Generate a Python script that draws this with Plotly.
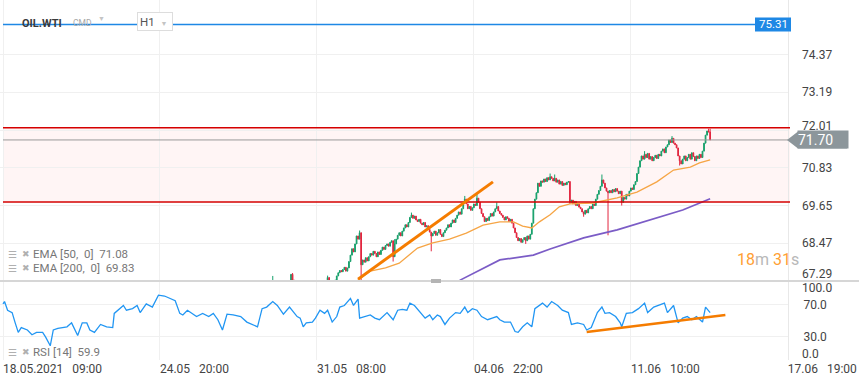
import plotly.graph_objects as go

W, H = 859, 385

# ---------------- data ----------------
first_bar = 171          # bar index of the first candle (bar 0 = 18.05 09:00, H1 bars)
first_open = 67.00
closes = [
    67.05, 67.10, 67.02, 67.12, 67.20, 67.15,
    67.30,
    67.22, 67.18, 67.10, 67.05, 67.12, 67.00, 66.95, 67.05, 67.15, 67.10, 67.20, 67.50,
    67.32, 67.28,
    67.20, 67.15, 67.05, 67.00, 66.95, 67.02, 67.10, 67.05, 66.98, 67.05, 67.15, 67.10, 67.00, 67.08, 67.15, 67.20, 67.12, 67.18, 67.25, 67.20, 67.30,
    67.40, 67.30,
    67.25, 67.20, 67.28, 67.32,
    67.45, 67.55, 67.62, 67.58,
    67.65, 67.72, 67.60, 67.70, 67.90,
    68.10, 68.30, 68.20, 68.45,
    68.70, 68.60, 68.80,
    67.80,
    67.95, 67.88, 68.02, 67.92, 68.05,
    68.15, 68.10, 68.22,
    68.15, 68.05, 68.20, 68.12,
    68.25, 68.35, 68.28, 68.40,
    68.45, 68.38, 68.50,
    68.55, 68.05, 68.45,
    68.60, 68.72,
    68.80, 68.70, 68.85,
    68.95, 69.05, 68.98, 69.12,
    69.28, 69.35, 69.25, 69.32,
    69.20, 69.15, 69.22, 69.10,
    69.05, 69.12, 68.98, 69.02,
    68.90, 68.82, 68.70,
    68.78, 68.85, 68.72, 68.80, 68.90, 68.75, 68.68, 68.80, 68.88, 68.95,
    69.05, 68.98, 69.10, 69.20, 69.12, 69.25,
    69.35, 69.45, 69.38, 69.55,
    69.75, 69.85, 69.70,
    69.55, 69.62, 69.50, 69.58,
    69.70, 69.65, 69.88, 69.75,
    69.55, 69.40, 69.30, 69.15, 69.25, 69.18,
    69.30, 69.40, 69.32, 69.45, 69.55, 69.62, 69.48, 69.40,
    69.35, 69.28, 69.20, 69.30, 69.25, 69.15, 69.22, 69.10, 68.95,
    68.80, 68.65, 68.55, 68.62, 68.50, 68.58,
    68.65, 68.55, 68.70, 68.60, 68.75,
    69.10, 69.55, 69.85, 70.05,
    70.35, 70.25, 70.42, 70.38,
    70.48, 70.40, 70.52, 70.45, 70.55, 70.50,
    70.42, 70.50, 70.38, 70.45, 70.32, 70.40, 70.28, 70.35, 70.30,
    70.38, 70.40,
    69.75,
    69.82, 69.70, 69.78, 69.65, 69.72, 69.60, 69.55,
    69.45, 69.38, 69.50, 69.42, 69.55,
    69.62, 69.55, 69.70, 69.65,
    69.85, 70.00, 70.12, 70.25,
    70.45, 70.35,
    70.20, 70.10, 70.05,
    70.12, 70.05, 70.15, 70.08, 70.18, 70.10, 70.02, 70.10,
    69.75,
    69.90, 69.85, 70.00, 69.95,
    70.10, 70.20, 70.15, 70.30, 70.40,
    70.65, 70.85,
    71.05, 71.20, 71.10, 71.25, 71.15, 71.28,
    71.10, 71.18, 71.05, 71.15, 71.22,
    71.12, 71.25, 71.20,
    71.35, 71.42, 71.30, 71.48, 71.55,
    71.70, 71.62, 71.75, 71.60,
    71.55, 71.45,
    71.20, 71.05, 70.95, 71.10,
    71.20, 71.05, 71.15, 71.25, 71.10, 71.30, 71.18, 71.05, 71.20,
    71.12, 71.25, 71.15, 71.35,
    71.60, 71.85,
    71.98, 71.95,
    71.70,
]
wick_high = {177: 67.45, 190: 67.54, 213: 67.46, 234: 68.87, 257: 68.60, 268: 69.43,
             303: 69.95, 311: 70.02, 324: 69.75, 359: 70.65, 362: 70.62, 393: 70.62,
             421: 71.35, 439: 71.82, 463: 72.05, 464: 72.05}
wick_low = {235: 67.30, 256: 67.90, 281: 68.22, 343: 68.45, 372: 69.70, 381: 69.30,
            397: 68.72, 406: 69.65, 444: 70.90}

ema50_idx = [228, 233, 241, 251, 260, 272, 282, 293, 304, 315, 326, 335, 341, 347, 352,
             359, 365, 372, 387, 403, 416, 429, 440, 451, 457, 464]
ema50_val = [67.17, 67.32, 67.60, 67.70, 67.85, 68.32, 68.48, 68.60, 68.79, 69.04, 69.14,
             69.14, 69.01, 68.95, 69.14, 69.36, 69.61, 69.70, 69.73, 69.89, 70.07, 70.39,
             70.76, 70.85, 70.98, 71.08]
ema200_idx = [293, 300, 326, 348, 359, 381, 403, 425, 446, 464]
ema200_val = [67.02, 67.32, 67.95, 68.10, 68.29, 68.64, 68.89, 69.20, 69.51, 69.86]

rsi_idx = [0, 1, 3, 6, 8, 10, 12, 16, 19, 22, 26, 28, 31, 33, 36, 42, 45, 49, 52, 55, 57, 60,
           64, 68, 72, 73, 79, 81, 85, 88, 90, 94, 98, 102, 106, 110, 113, 116, 118, 121, 124,
           127, 131, 135, 138, 141, 144, 147, 151, 156, 160, 163, 167, 170, 173, 177, 180, 184,
           188, 193, 195,
           197, 199, 203, 205, 208, 211, 213, 216, 219, 221, 224, 228, 230, 233, 234, 238, 241,
           244, 247, 252, 254, 256, 259, 262, 265, 267, 270, 274, 277, 280, 282, 285, 287, 290,
           293, 297, 300, 303, 305, 308, 311, 314, 318, 321, 324, 326, 329, 333, 336, 338, 341,
           344, 347, 349, 354, 357, 360, 364, 365,
           367, 371, 373, 377, 381, 383, 386, 390, 393, 395, 398, 402, 405, 406, 409, 413, 417,
           421, 423, 427, 430, 434, 436, 440, 443, 446, 449, 452, 455, 459, 461, 463, 464]
rsi_val = [71, 74, 63, 60, 47, 35, 41, 38, 32, 35, 35, 29, 18, 38, 40, 42, 47, 31, 47, 47, 38, 35,
           45, 42, 41, 59, 69, 63, 65, 69, 60, 71, 67, 82, 81, 78, 75, 59, 57, 63, 59,
           55, 59, 55, 59, 51, 38, 58, 57, 55, 48, 45, 42, 65, 67, 74, 69, 58,
           67, 55, 53,
           42, 47, 48, 53, 63, 59, 63, 48, 55, 67, 69, 78, 69, 77, 53, 55, 57,
           53, 51, 60, 55, 51, 63, 64, 63, 72, 69, 59, 53, 57, 51, 57, 55, 45,
           53, 60, 59, 67, 60, 65, 63, 55, 51, 53, 55, 51, 48, 48, 36, 35, 42,
           47, 42, 65, 72, 67, 74, 69, 67,
           63, 60, 45, 47, 45, 38, 41, 60, 67, 59, 60, 55, 47, 42, 59, 60, 65,
           72, 60, 67, 69, 72, 60, 69, 47, 53, 55, 51, 55, 48, 67, 63, 60]

x_tick_idx = [0, 103, 206, 309, 412, 515]
x_tick_text = ["18.05.2021  09:00", "24.05  20:00", "31.05  08:00",
               "04.06  22:00", "11.06  10:00", "17.06  19:00"]
price_ticks = [74.37, 73.19, 72.01, 70.83, 69.65, 68.47, 67.29]
rsi_ticks = [100.0, 70.0, 30.0, 0.0]

last_price = 71.70
ask_level = 75.31
resistance = 72.08
support = 69.76
ema50_last, ema200_last, rsi_last = 71.08, 69.83, 59.9
trend_price_x, trend_price_y = [233, 321.5], [67.35, 70.39]
trend_rsi_x, trend_rsi_y = [383, 474], [35.4, 57.0]
countdown = ("18", "31")

# ---------------- build ----------------
bars = list(range(first_bar, first_bar + len(closes)))
opens = [first_open] + closes[:-1]
highs = [wick_high.get(b, max(o, c)) for b, o, c in zip(bars, opens, closes)]
lows = [wick_low.get(b, min(o, c)) for b, o, c in zip(bars, opens, closes)]

def px(x):
    return x / W

def py(y):
    return 1 - y / H

FONT = "Roboto"
GRID = "#f0f0f0"
XR = [-1.97, 515.1]
XDOM = [0, 788 / W]
TICKFONT = dict(family=FONT, size=12, color="#444")

fig = go.Figure()
fig.add_trace(go.Candlestick(
    x=bars, open=opens, high=highs, low=lows, close=closes,
    increasing=dict(line=dict(color="#17a06b", width=1), fillcolor="#17a06b"),
    decreasing=dict(line=dict(color="#e2263f", width=1), fillcolor="#e2263f"),
    whiskerwidth=0, xaxis="x", yaxis="y", hoverinfo="skip"))
fig.add_trace(go.Scatter(x=ema50_idx, y=ema50_val, mode="lines",
                         line=dict(color="#f6a545", width=1.3), xaxis="x", yaxis="y"))
fig.add_trace(go.Scatter(x=ema200_idx, y=ema200_val, mode="lines",
                         line=dict(color="#7b5cc6", width=1.7), xaxis="x", yaxis="y"))
fig.add_trace(go.Scatter(x=rsi_idx, y=rsi_val, mode="lines",
                         line=dict(color="#2196f3", width=1.3), xaxis="x2", yaxis="y2"))

shapes = [
    dict(type="rect", xref="paper", yref="y", x0=px(3), x1=px(790), y0=support, y1=resistance,
         fillcolor="#fff5f5", line=dict(width=0), layer="below"),
    dict(type="line", xref="paper", yref="y", x0=px(3), x1=px(788), y0=last_price, y1=last_price,
         line=dict(color="#9a9a9a", width=1)),
    dict(type="line", xref="paper", yref="y", x0=px(3), x1=px(790), y0=resistance, y1=resistance,
         line=dict(color="#d50000", width=1.5)),
    dict(type="line", xref="paper", yref="y", x0=px(3), x1=px(790), y0=support, y1=support,
         line=dict(color="#d50000", width=1.5)),
    dict(type="line", xref="paper", yref="y", x0=px(3), x1=px(755), y0=ask_level, y1=ask_level,
         line=dict(color="#1e88e5", width=1.5)),
    dict(type="rect", xref="paper", yref="y", x0=px(755), x1=px(791), ysizemode="pixel",
         yanchor=ask_level, y0=-7, y1=7, fillcolor="#1e88e5", line=dict(width=0)),
    dict(type="path", xref="paper", yref="y", xsizemode="pixel", xanchor=px(787),
         ysizemode="pixel", yanchor=last_price,
         path="M0,0 L11,8.5 L60,8.5 L60,-8.5 L11,-8.5 Z", fillcolor="#8c969b", line=dict(width=0)),
    dict(type="line", xref="x", yref="y", x0=trend_price_x[0], x1=trend_price_x[1],
         y0=trend_price_y[0], y1=trend_price_y[1], line=dict(color="#f57c00", width=3)),
    dict(type="line", xref="x2", yref="y2", x0=trend_rsi_x[0], x1=trend_rsi_x[1],
         y0=trend_rsi_y[0], y1=trend_rsi_y[1], line=dict(color="#f57c00", width=2.5)),
    dict(type="line", xref="paper", yref="paper", x0=0, x1=1, y0=py(281), y1=py(281),
         line=dict(color="#d6d6d6", width=2)),
    dict(type="rect", xref="paper", yref="paper", x0=px(431), x1=px(441), y0=py(283), y1=py(279),
         fillcolor="#b4b4b4", line=dict(width=0)),
]

ann = []
def text(x, y, s, size=12, color="#444", xanchor="left", **kw):
    d = dict(xref="paper", yref="paper", x=px(x), y=py(y), text=s, showarrow=False,
             xanchor=xanchor, yanchor="middle", font=dict(family=FONT, size=size, color=color))
    d.update(kw)
    ann.append(d)

text(20, 23, "<b>OIL.WTI</b>", 11, "#3a3a3a")
text(71, 23, "CMD", 8.5, "#a8a8a8")
text(96, 19, "▼", 7, "#c4c4c4")
ann.append(dict(xref="paper", yref="paper", x=px(137), y=py(21.5), xanchor="left", yanchor="middle",
                text="H1 \u00a0<span style='color:#c4c4c4;font-size:7px'>▼</span>", showarrow=False,
                font=dict(family=FONT, size=11.5, color="#555"), bgcolor="white",
                bordercolor="#dddddd", borderwidth=1, borderpad=2, width=30, height=13, align="left"))
ann.append(dict(xref="paper", yref="y", x=px(773), y=ask_level, text="75.31", showarrow=False,
                xanchor="center", yanchor="middle", font=dict(family=FONT, size=11.5, color="white")))
# price labels on the right (drawn as text so the current-price box can sit over 72.01 as in the app)
for v in price_ticks[:-1]:
    ann.append(dict(xref="paper", yref="y", x=px(800), y=v, text=f"{v:.2f}", showarrow=False,
                    xanchor="left", yanchor="middle", font=TICKFONT,
                    yshift=4 if v == 72.01 else 0))
text(800, 274, f"{price_ticks[-1]:.2f}", 12, "#444")
ann.append(dict(xref="paper", yref="y", x=px(797), y=last_price, text=f"{last_price:.2f}",
                showarrow=False, xanchor="left", yanchor="middle", bgcolor="#8c969b",
                width=50, height=17, borderpad=0, align="left",
                font=dict(family=FONT, size=14, color="white")))
ann.append(dict(xref="paper", yref="y2", x=px(800), y=rsi_ticks[0], yshift=-7,
                text=f"{rsi_ticks[0]:.1f}", showarrow=False, xanchor="left", yanchor="middle",
                font=TICKFONT))
ann.append(dict(xref="paper", yref="y2", x=px(800), y=rsi_ticks[-1], yshift=6,
                text=f"{rsi_ticks[-1]:.1f}", showarrow=False, xanchor="left", yanchor="middle",
                font=TICKFONT))

for yy, label in [(254, f"EMA [50,\u00a0 0]\u00a0 {ema50_last:.2f}"),
                  (268, f"EMA [200,\u00a0 0]\u00a0 {ema200_last:.2f}"),
                  (352, f"RSI [14]\u00a0 {rsi_last:.1f}")]:
    text(6, yy, "☰", 10, "#b0b0b0")
    text(20, yy, "✖", 9, "#b0b0b0")
    text(31, yy, label, 11.5, "#777")

o, g = "#ffa033", "#b8b8b8"
text(735, 259, f"<span style='color:{o}'>{countdown[0]}</span><span style='color:{g}'>m</span>"
     f" <span style='color:{o}'>{countdown[1]}</span><span style='color:{g}'>s</span>", 16, o)

fig.update_layout(
    width=W, height=H, margin=dict(l=0, r=0, t=0, b=0, autoexpand=False),
    paper_bgcolor="white", plot_bgcolor="white", showlegend=False, hovermode=False,
    shapes=shapes, annotations=ann,
    xaxis=dict(domain=XDOM, range=XR, anchor="y", tickvals=x_tick_idx, showticklabels=False,
               showgrid=True, gridcolor=GRID, zeroline=False, rangeslider=dict(visible=False),
               ticks="", automargin=False),
    xaxis2=dict(domain=XDOM, range=XR, anchor="y2", tickvals=x_tick_idx,
                ticktext=[t.replace("  ", "\u00a0\u00a0 ") for t in x_tick_text],
                ticklabelposition="outside right", showgrid=True, gridcolor=GRID, zeroline=False,
                ticks="", tickfont=TICKFONT, automargin=False),
    yaxis=dict(domain=[py(281), 1], range=[67.292, 76.073], side="right", anchor="x",
               tickvals=price_ticks[:-1], showticklabels=False,
               showgrid=True, gridcolor=GRID, zeroline=False, ticks="",
               showline=True, linecolor="#e8e8e8", automargin=False),
    yaxis2=dict(domain=[py(360), py(281)], range=[0, 100], side="right", anchor="x2",
                tickvals=[0, 30, 70], ticktext=["", "30.0", "70.0"],
                showgrid=True, gridcolor=GRID, zeroline=False, ticks="", ticklabelstandoff=12,
                showline=True, linecolor="#e8e8e8", tickfont=TICKFONT, automargin=False),
)

fig.write_html("out.html", config={"displayModeBar": False},
               post_script="document.body.style.margin='0';document.body.style.overflow='hidden';")
